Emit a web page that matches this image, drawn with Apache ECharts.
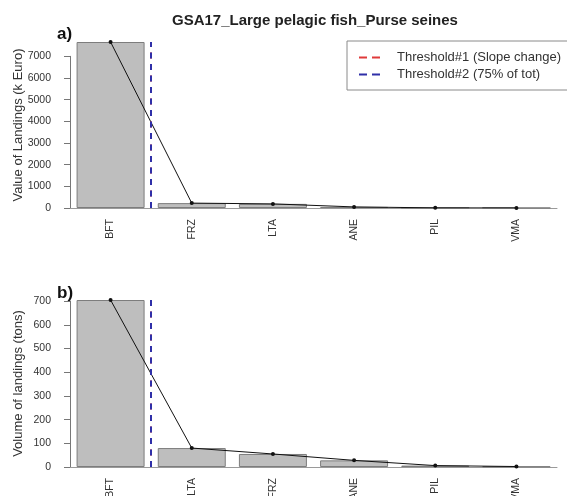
<!DOCTYPE html>
<html>
<head>
<meta charset="utf-8">
<script src="https://cdn.jsdelivr.net/npm/echarts@6/dist/echarts.min.js"></script>
<style>
  html, body { margin: 0; padding: 0; background: #fff; }
  #main { width: 567px; height: 496px; }
</style>
</head>
<body>
<div id="main"></div>
<script>
// panel a) value of landings
var speciesA = ['BFT', 'FRZ', 'LTA', 'ANE', 'PIL', 'VMA']
var valueA = [7660, 225, 190, 50, 6, 3]
var ticksA = [0, 1000, 2000, 3000, 4000, 5000, 6000, 7000]

// panel b) volume of landings
var speciesB = ['BFT', 'LTA', 'FRZ', 'ANE', 'PIL', 'VMA']
var volumeB = [705, 80, 55, 28, 6, 2]
var ticksB = [0, 100, 200, 300, 400, 500, 600, 700]

// thresholds sit between bar 1 and bar 2 (bar index units)
var threshold1 = [0.5, 0.5]
var threshold2 = [0.5, 0.5]

var FONT = 'Liberation Sans, Arial, sans-serif'
var chart = echarts.init(document.getElementById('main'))

// plot region in pixels: [top of data, zero line]
var panels = [
  { top: 42, zero: 208, names: speciesA, values: valueA, ticks: ticksA, yName: 'Value of Landings (k Euro)' },
  { top: 300, zero: 467, names: speciesB, values: volumeB, ticks: ticksB, yName: 'Volume of landings (tons)' }
]
var H = 496
var LEFT = 70
var RIGHT = 10
var DASH = [6, 5.5]

var grid = []
var xAxis = []
var yAxis = []
var series = []

panels.forEach(function(p, k) {
  var maxVal = Math.max.apply(null, p.values)
  var tickMax = p.ticks[p.ticks.length - 1]
  var axisTop = p.zero - (tickMax / maxVal) * (p.zero - p.top)
  var g = grid.length
  // data grid
  grid.push({ left: LEFT, right: RIGHT, top: p.top, bottom: H - p.zero, outerBoundsMode: 'none', containLabel: false })
  // grid that only carries the y axis (line stops at last tick)
  grid.push({ left: LEFT, right: RIGHT, top: axisTop, bottom: H - p.zero, outerBoundsMode: 'none', containLabel: false })

  var xv = xAxis.length
  xAxis.push({ type: 'value', gridIndex: g, min: -0.5, max: p.names.length - 0.5, show: false, position: 'bottom' })
  xAxis.push({
    type: 'category', gridIndex: g, data: p.names, position: 'bottom', boundaryGap: true,
    axisLine: { lineStyle: { color: '#9a9a9a', width: 1 } },
    axisTick: { show: false },
    axisLabel: { rotate: 90, margin: 11, fontSize: 10.5, color: '#333', fontFamily: FONT, interval: 0 },
    splitLine: { show: false }
  })
  xAxis.push({ type: 'value', gridIndex: g + 1, min: 0, max: 1, show: false })

  var yd = yAxis.length
  yAxis.push({
    type: 'value', gridIndex: g, min: 0, max: maxVal,
    name: p.yName, nameLocation: 'middle', nameGap: 45,
    nameTextStyle: { fontSize: 13, color: '#333', fontFamily: FONT },
    axisLine: { show: false }, axisTick: { show: false }, axisLabel: { show: false }, splitLine: { show: false }
  })
  yAxis.push({
    type: 'value', gridIndex: g + 1, min: 0, max: tickMax, interval: p.ticks[1] - p.ticks[0],
    offset: 11,
    axisLine: { show: true, lineStyle: { color: '#777', width: 1 } },
    axisTick: { show: true, length: 6, lineStyle: { color: '#777' } },
    axisLabel: {
      margin: 8, fontSize: 10.5, color: '#333', fontFamily: FONT,
      formatter: function(v) { return String(v) }
    },
    splitLine: { show: false }
  })

  var pts = p.values.map(function(v, i) { return [i, v] })
  series.push({
    type: 'bar', name: 'bars' + k, xAxisIndex: xv, yAxisIndex: yd, data: pts,
    barWidth: 68,
    itemStyle: { color: '#bebebe', borderColor: '#7d7d7d', borderWidth: 1 },
    silent: true
  })
  series.push({
    type: 'line', name: 'line' + k, xAxisIndex: xv, yAxisIndex: yd, data: pts,
    symbol: 'circle', symbolSize: 4,
    itemStyle: { color: '#111' },
    lineStyle: { color: '#111', width: 1 },
    silent: true
  })
  series.push({
    type: 'line', name: 'Threshold#1 (Slope change)', xAxisIndex: xv, yAxisIndex: yd, data: [],
    symbol: 'none', itemStyle: { color: '#e03a3a' },
    lineStyle: { color: '#e03a3a', width: 2, type: DASH },
    markLine: {
      silent: true, symbol: ['none', 'none'], label: { show: false },
      lineStyle: { color: '#e03a3a', width: 2, type: DASH },
      data: [{ xAxis: threshold1[k] }]
    }
  })
  series.push({
    type: 'line', name: 'Threshold#2 (75% of tot)', xAxisIndex: xv, yAxisIndex: yd, data: [],
    symbol: 'none', itemStyle: { color: '#2f2fa8' },
    lineStyle: { color: '#2f2fa8', width: 2, type: DASH },
    markLine: {
      silent: true, symbol: ['none', 'none'], label: { show: false },
      lineStyle: { color: '#2f2fa8', width: 2, type: DASH },
      data: [{ xAxis: threshold2[k] }]
    }
  })
})

chart.setOption({
  animation: false,
  backgroundColor: '#fff',
  title: [
    { text: 'GSA17_Large pelagic fish_Purse seines', left: 172, top: 13, padding: 0,
      textStyle: { fontSize: 15, fontWeight: 'bold', color: '#222', fontFamily: FONT } },
    { text: 'a)', left: 57, top: 26, padding: 0,
      textStyle: { fontSize: 17, fontWeight: 'bold', color: '#111', fontFamily: FONT } },
    { text: 'b)', left: 57, top: 285, padding: 0,
      textStyle: { fontSize: 17, fontWeight: 'bold', color: '#111', fontFamily: FONT } }
  ],
  legend: {
    data: ['Threshold#1 (Slope change)', 'Threshold#2 (75% of tot)'],
    orient: 'vertical', left: 347, top: 41,
    padding: [9, 8, 8, 11],
    itemGap: 2, itemWidth: 21, itemHeight: 10,
    borderColor: '#8a8a8a', borderWidth: 1, backgroundColor: '#fff',
    selectedMode: false,
    itemStyle: { color: 'transparent', borderWidth: 0, opacity: 0 },
    lineStyle: { width: 2, type: [8, 5] },
    textStyle: { fontSize: 13, lineHeight: 15, color: '#333', fontFamily: FONT, padding: [0, 0, 0, 12] }
  },
  grid: grid,
  xAxis: xAxis,
  yAxis: yAxis,
  series: series
})
</script>
</body>
</html>
